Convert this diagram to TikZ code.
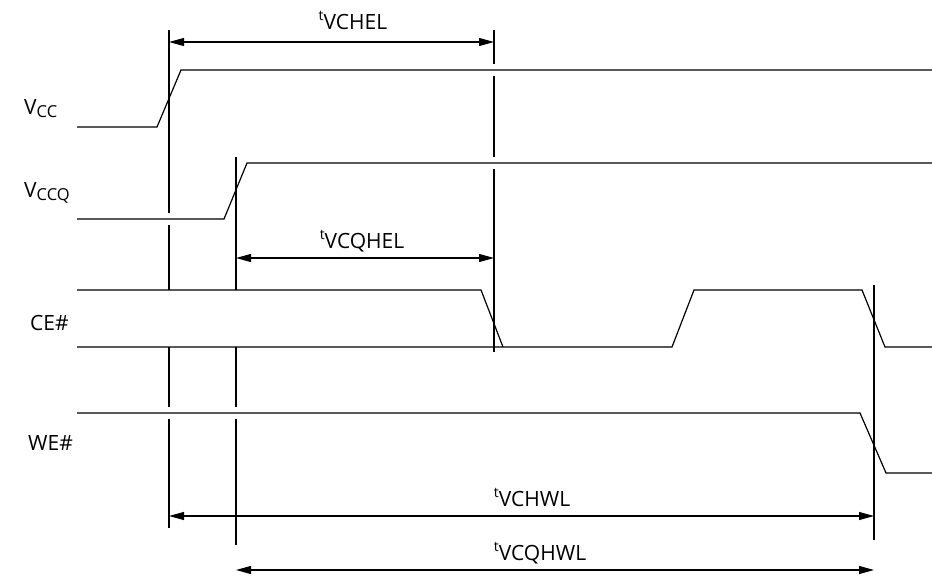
\documentclass[tikz,border=0pt]{standalone}
\usepackage{fontspec}
\setmainfont{Open Sans}
\usetikzlibrary{arrows.meta}
\newcommand{\sigsub}[1]{\raisebox{-0.35ex}{\fontsize{16.5}{18}\selectfont #1}}
\newcommand{\tpre}{\raisebox{0.75ex}{\fontsize{14}{15}\selectfont t}}
\begin{document}
\begin{tikzpicture}
    [x=1pt,y=-1pt,
     wave/.style={line width=1.2pt,line join=miter},
     marker/.style={line width=1.2pt},
     dim/.style={{Triangle[length=15pt,width=8pt]}-{Triangle[length=15pt,width=8pt]},line width=1.1pt},
     sig/.style={font=\fontsize{21}{24}\selectfont,inner sep=0pt,anchor=base west},
     tlabel/.style={font=\fontsize{21}{24}\selectfont,inner sep=0pt,anchor=base}]
  \useasboundingbox (0,0) rectangle (932,576);
  % signal names
  \node [sig] (vcc) at (24,114) {V\sigsub{CC}};
  \node [sig] (vccq) at (24,197) {V\sigsub{CCQ}};
  \node [sig] (ce) at (30,330) {CE\#};
  \node [sig] (we) at (28,450) {WE\#};
  % waveforms
  \draw [wave] (77,127) -- (157,127) -- (181,70) -- (932,70);
  \draw [wave] (77,219) -- (224,219) -- (247,163) -- (932,163);
  \draw [wave] (77,290) -- (481,290) -- (503,347);
  \draw [wave] (77,347) -- (672,347) -- (694,290) -- (862,290) -- (885,347) -- (932,347);
  \draw [wave] (77,413) -- (860,413) -- (886,473) -- (932,473);
  % reference lines
  \coordinate (a1) at (169,42);  \coordinate (a2) at (494,42);
  \coordinate (b1) at (236,258); \coordinate (b2) at (494,258);
  \coordinate (c1) at (169,516); \coordinate (c2) at (874,516);
  \coordinate (d1) at (236,570); \coordinate (d2) at (874,570);
  \draw [marker] (169,30) -- (169,213) (169,225) -- (169,290)
    (169,347) -- (169,407) (169,419) -- (169,528);
  \draw [marker] (236,157) -- (236,290) (236,347) -- (236,407)
    (236,419) -- (236,545);
  \draw [marker] (494,30) -- (494,64) (494,76) -- (494,157)
    (494,169) -- (494,352);
  \draw [marker] (874,285) -- (874,540);
  % timing arrows
  \draw [dim] (a1) -- (a2);
  \draw [dim] (b1) -- (b2);
  \draw [dim] (c1) -- (c2);
  \draw [dim] (d1) -- (d2);
  \node [tlabel] (tvchel) at (353,29) {\tpre VCHEL};
  \node [tlabel] (tvcqhel) at (362,248) {\tpre VCQHEL};
  \node [tlabel] (tvchwl) at (532,506) {\tpre VCHWL};
  \node [tlabel] (tvcqhwl) at (540,560) {\tpre VCQHWL};
\end{tikzpicture}
\end{document}
